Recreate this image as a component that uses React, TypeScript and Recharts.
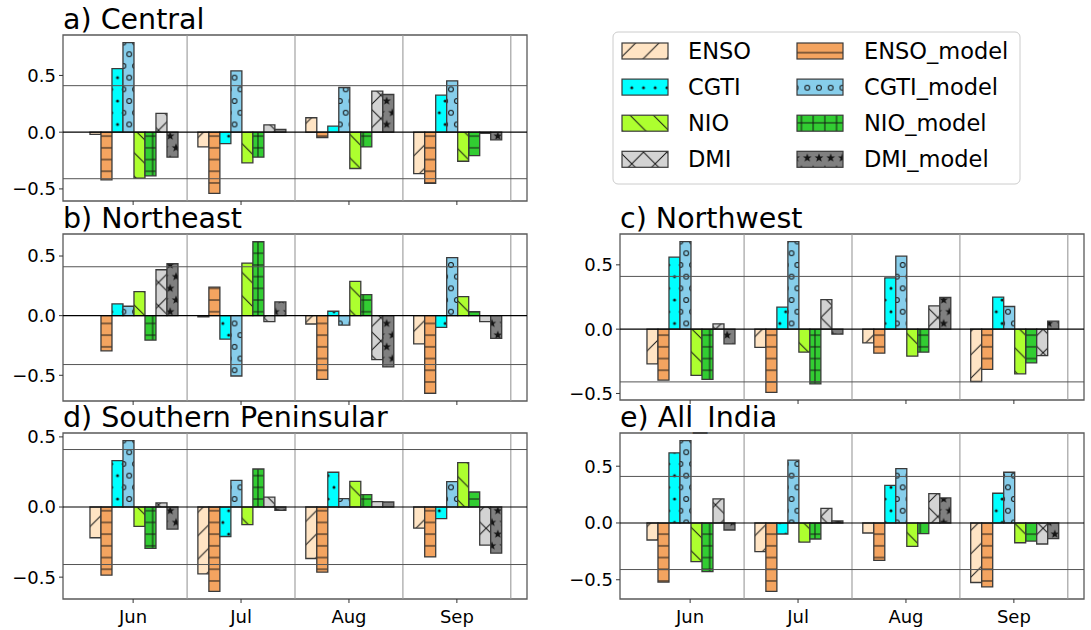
import React from 'react';
import { BarChart, Bar, XAxis, YAxis, ReferenceLine, ReferenceArea } from 'recharts';

const FONT = '"DejaVu Sans", Verdana, sans-serif';

const MONTHS = ['Jun', 'Jul', 'Aug', 'Sep'];
const MONTH_POS = [0, 1, 2, 3];
const SERIES = ['ENSO', 'ENSO_model', 'CGTI', 'CGTI_model', 'NIO', 'NIO_model', 'DMI', 'DMI_model'];
const COLORS = ['#FFE4C4', '#F4A460', '#00FFFF', '#87CEEB', '#ADFF2F', '#32CD32', '#D3D3D3', '#808080'];
const HATCHES = ['/', '-', '.', 'o', '\\', '+', 'x', '*'];
const Y_TICKS = [-0.5, 0, 0.5];
const SIG_LEVEL = 0.41;
const GRID_X = [0.5, 1.5, 2.5, 3.5];
const X_LIMITS = [-0.65, 3.65];

// each row = one series (order of SERIES), columns = Jun, Jul, Aug, Sep
const CENTRAL = [
  [-0.02, -0.13, 0.127, -0.365],
  [-0.42, -0.54, -0.047, -0.45],
  [0.56, -0.1, 0.053, 0.326],
  [0.79, 0.54, 0.394, 0.453],
  [-0.405, -0.27, -0.32, -0.256],
  [-0.385, -0.22, -0.13, -0.206],
  [0.165, 0.065, 0.362, -0.01],
  [-0.22, 0.024, 0.332, -0.068],
];
const NORTHEAST = [
  [0, -0.01, -0.07, -0.236],
  [-0.295, 0.239, -0.534, -0.652],
  [0.098, -0.197, 0.037, -0.098],
  [0.079, -0.506, -0.079, 0.486],
  [0.202, 0.441, 0.287, 0.16],
  [-0.205, 0.621, 0.177, 0.034],
  [0.385, -0.05, -0.368, -0.05],
  [0.435, 0.115, -0.43, -0.19],
];
const NORTHWEST = [
  [-0.27, -0.142, -0.106, -0.407],
  [-0.396, -0.492, -0.187, -0.313],
  [0.56, 0.171, 0.399, 0.249],
  [0.681, 0.681, 0.567, 0.176],
  [-0.36, -0.179, -0.21, -0.347],
  [-0.39, -0.425, -0.179, -0.262],
  [0.041, 0.23, 0.181, -0.205],
  [-0.114, -0.039, 0.246, 0.062],
];
const SOUTHERN = [
  [-0.219, -0.476, -0.367, -0.15],
  [-0.486, -0.602, -0.464, -0.355],
  [0.331, -0.21, 0.248, -0.083],
  [0.474, 0.19, 0.06, 0.181],
  [-0.138, -0.126, 0.183, 0.317],
  [-0.295, 0.271, 0.088, 0.107],
  [0.029, 0.071, 0.038, -0.271],
  [-0.157, -0.024, 0.036, -0.329],
];
const ALL_INDIA = [
  [-0.15, -0.253, -0.088, -0.524],
  [-0.52, -0.603, -0.329, -0.562],
  [0.618, -0.097, 0.332, 0.262],
  [0.726, 0.553, 0.479, 0.447],
  [-0.341, -0.168, -0.206, -0.174],
  [-0.429, -0.141, -0.094, -0.159],
  [0.212, 0.129, 0.259, -0.185],
  [-0.062, 0.018, 0.221, -0.138],
];

const fmt = (v: number) => (v < 0 ? '\u2212' + Math.abs(v).toFixed(1) : v.toFixed(1));

const HT = 23.4;
const HH = HT / 2;
const INK = '#141414';
const EDGE = '#3a3a3a';

function starPath(cx: number, cy: number, R: number) {
  const r = R * 0.42;
  let d = '';
  for (let k = 0; k < 10; k++) {
    const rad = k % 2 === 0 ? R : r;
    const a = -Math.PI / 2 + (k * Math.PI) / 5;
    d += (k === 0 ? 'M' : 'L') + (cx + rad * Math.cos(a)).toFixed(2) + ',' + (cy + rad * Math.sin(a)).toFixed(2);
  }
  return d + 'Z';
}

function HatchPattern({ i }: { i: number }) {
  const c = COLORS[i];
  const h = HATCHES[i];
  const id = `hatch-${i}`;
  const slash = `M0,${HT} L${HT},0 M-2,2 L2,-2 M${HT - 2},${HT + 2} L${HT + 2},${HT - 2}`;
  const back = `M0,0 L${HT},${HT} M${HT - 2},-2 L${HT + 2},2 M-2,${HT - 2} L2,${HT + 2}`;
  const pts = [
    [HH / 2, HH / 2],
    [0, 1.5 * HH],
    [HH, 1.5 * HH],
  ];
  if (h === '/' || h === '\\' || h === 'x') {
    const d = h === '/' ? slash : h === '\\' ? back : slash + ' ' + back;
    return (
      <pattern id={id} width={HT} height={HT} patternUnits="userSpaceOnUse">
        <rect width={HT} height={HT} fill={c} />
        <path d={d} stroke={INK} strokeWidth={1} fill="none" />
      </pattern>
    );
  }
  if (h === '-') {
    return (
      <pattern id={id} width={HT} height={HH} patternUnits="userSpaceOnUse">
        <rect width={HT} height={HH} fill={c} />
        <path d={`M0,${HH / 2} L${HT},${HH / 2}`} stroke={INK} strokeWidth={1} />
      </pattern>
    );
  }
  if (h === '+') {
    return (
      <pattern id={id} width={HH} height={HH} patternUnits="userSpaceOnUse">
        <rect width={HH} height={HH} fill={c} />
        <path d={`M0,${HH / 2} L${HH},${HH / 2} M${HH / 2},0 L${HH / 2},${HH}`} stroke={INK} strokeWidth={1} />
      </pattern>
    );
  }
  return (
    <pattern id={id} width={HH} height={HT} patternUnits="userSpaceOnUse">
      <rect width={HH} height={HT} fill={c} />
      {pts.map(([x, y], k) =>
        h === '.' ? (
          <circle key={k} cx={x} cy={y} r={1.5} fill={INK} />
        ) : h === 'o' ? (
          <circle key={k} cx={x} cy={y} r={2.4} fill="none" stroke={INK} strokeWidth={1} />
        ) : (
          <path key={k} d={starPath(x, y, 4.6)} fill={INK} />
        )
      )}
    </pattern>
  );
}

type PanelProps = { rows: number[][]; box: [number, number, number, number]; labels: boolean };

function Panel({ rows, box, labels }: PanelProps) {
  const [x0, y0, x1, y1] = box;
  const W = x1 - x0;
  const H = y1 - y0;
  const L = 80;
  const T = 10;
  const R = 12;
  const XH = 40;
  const data = MONTHS.map((m, j) => {
    const row: Record<string, any> = { month: m, pos: MONTH_POS[j] };
    SERIES.forEach((s, i) => {
      row[s] = rows[i][j];
    });
    return row;
  });
  const all = rows.flat();
  const mn = Math.min(...all);
  const mx = Math.max(...all);
  const m = (mx - mn) * 0.05;
  const yDomain: [number, number] = [mn - m, mx + m];
  const unit = W / (X_LIMITS[1] - X_LIMITS[0]);
  const padL = (-0.5 - X_LIMITS[0]) * unit;
  const padR = (X_LIMITS[1] - (MONTHS.length - 0.5)) * unit;
  return (
    <div style={{ position: 'absolute', left: x0 - L, top: y0 - T }}>
      <BarChart
        width={L + W + R}
        height={T + H + XH}
        data={data}
        margin={{ top: T, right: R, bottom: 0, left: 0 }}
        barCategoryGap="10%"
        barGap={0}
      >
        <XAxis
          xAxisId="cat"
          dataKey="month"
          height={XH}
          padding={{ left: padL, right: padR }}
          axisLine={false}
          tickLine={{ stroke: '#333', strokeWidth: 1 }}
          tickSize={4}
          tickMargin={7}
          interval={0}
          tick={{ fontSize: 18, fill: '#000', fontFamily: FONT }}
          tickFormatter={labels ? undefined : () => ''}
        />
        <XAxis xAxisId="num" type="number" dataKey="pos" domain={X_LIMITS} allowDataOverflow hide />
        <YAxis
          type="number"
          domain={yDomain}
          allowDataOverflow
          ticks={Y_TICKS}
          width={L}
          axisLine={false}
          tickLine={{ stroke: '#333', strokeWidth: 1 }}
          tickSize={4}
          tickMargin={3}
          tick={{ fontSize: 18, fill: '#000', fontFamily: FONT }}
          tickFormatter={fmt}
        />
        {SERIES.map((s, i) => (
          <Bar
            key={s}
            xAxisId="cat"
            dataKey={s}
            fill={`url(#hatch-${i})`}
            stroke={EDGE}
            strokeWidth={1.3}
            isAnimationActive={false}
          />
        ))}
        {GRID_X.map((g) => (
          <ReferenceLine key={g} xAxisId="num" x={g} stroke="#9a9a9a" strokeWidth={1.1} />
        ))}
        <ReferenceLine xAxisId="num" y={SIG_LEVEL} stroke="#555" strokeWidth={1} />
        <ReferenceLine xAxisId="num" y={-SIG_LEVEL} stroke="#555" strokeWidth={1} />
        <ReferenceLine xAxisId="num" y={0} stroke="#000" strokeWidth={1.2} />
        <ReferenceArea
          xAxisId="num"
          x1={X_LIMITS[0]}
          x2={X_LIMITS[1]}
          y1={yDomain[0]}
          y2={yDomain[1]}
          fill="none"
          fillOpacity={0}
          stroke="#5a5a5a"
          strokeWidth={1.3}
          ifOverflow="visible"
        />
      </BarChart>
    </div>
  );
}

const PANELS: { title: string; rows: number[][]; box: [number, number, number, number]; labels: boolean }[] = [
  { title: 'a) Central', rows: CENTRAL, box: [63, 35, 527, 201], labels: false },
  { title: 'b) Northeast', rows: NORTHEAST, box: [63, 234, 527, 401], labels: false },
  { title: 'c) Northwest', rows: NORTHWEST, box: [620, 234, 1084, 400], labels: false },
  { title: 'd) Southern Peninsular', rows: SOUTHERN, box: [63, 433, 527, 599], labels: true },
  { title: 'e) All_India', rows: ALL_INDIA, box: [620, 433, 1084, 599], labels: true },
];

function Legend() {
  return (
    <g>
      <rect x={613} y={32} width={407} height={152} rx={5} fill="#fff" fillOpacity={0.8} stroke="#cccccc" strokeWidth={1} />
      {SERIES.map((s, i) => {
        const col = i % 2;
        const row = Math.floor(i / 2);
        const px = col === 0 ? 622 : 797;
        const tx = col === 0 ? 688 : 864;
        const py = 43 + row * 36.1;
        return (
          <g key={s}>
            <rect x={px} y={py} width={46} height={16} fill={`url(#hatch-${i})`} stroke={EDGE} strokeWidth={1.2} />
            <text x={tx} y={py + 16} fontSize={22.5} fontFamily={FONT} fill="#000">
              {s}
            </text>
          </g>
        );
      })}
    </g>
  );
}

export default function App() {
  return (
    <div style={{ position: 'absolute', left: 0, top: 0, width: 1091, height: 630, background: '#fff', overflow: 'hidden' }}>
      <svg width={1091} height={630} style={{ position: 'absolute', left: 0, top: 0 }}>
        <defs>
          {SERIES.map((s, i) => (
            <HatchPattern key={s} i={i} />
          ))}
        </defs>
        {PANELS.map((p) => (
          <text key={p.title} x={p.box[0]} y={p.box[1] - 6.5} fontSize={28.5} fontFamily={FONT} fill="#000">
            {p.title}
          </text>
        ))}
        <Legend />
      </svg>
      {PANELS.map((p) => (
        <Panel key={p.title} rows={p.rows} box={p.box} labels={p.labels} />
      ))}
    </div>
  );
}
